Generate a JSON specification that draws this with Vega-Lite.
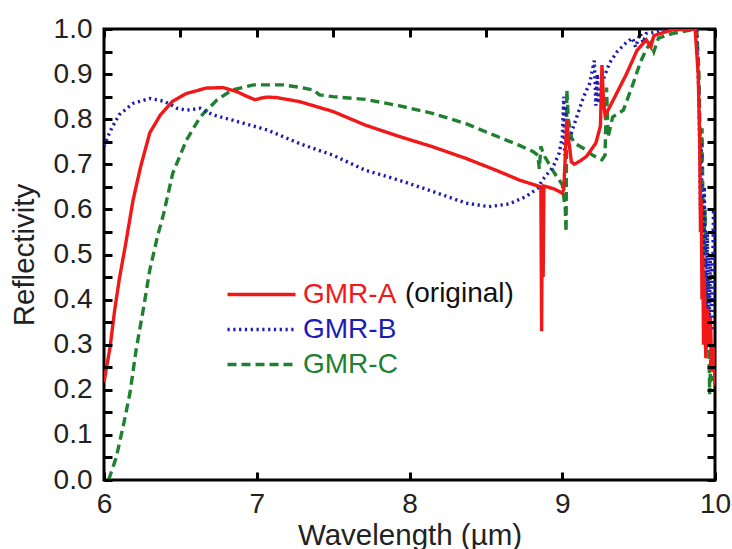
{
  "$schema": "https://vega.github.io/schema/vega-lite/v6.json",
  "width": 611,
  "height": 451,
  "autosize": {"type": "none"},
  "padding": {"left": 104, "top": 29, "right": 17, "bottom": 69},
  "background": "white",
  "config": {
    "font": "Liberation Sans",
    "view": {"stroke": "black", "strokeWidth": 3},
    "axis": {"grid": false, "labelFont": "Liberation Sans", "labelFontSize": 28, "labelColor": "#222", "titleFont": "Liberation Sans", "titleFontSize": 29.5, "titleFontWeight": "normal", "titleColor": "#222"}
  },
  "datasets": {
    "curves": [
      {"s":"GMR-C","w":6.03,"r":0.0},{"s":"GMR-C","w":6.05,"r":0.02},{"s":"GMR-C","w":6.08,"r":0.05},{"s":"GMR-C","w":6.13,"r":0.126},{"s":"GMR-C","w":6.17,"r":0.193},{"s":"GMR-C","w":6.21,"r":0.288},{"s":"GMR-C","w":6.26,"r":0.384},{"s":"GMR-C","w":6.30,"r":0.466},{"s":"GMR-C","w":6.35,"r":0.54},{"s":"GMR-C","w":6.39,"r":0.59},{"s":"GMR-C","w":6.45,"r":0.68},{"s":"GMR-C","w":6.54,"r":0.754},{"s":"GMR-C","w":6.63,"r":0.805},{"s":"GMR-C","w":6.74,"r":0.843},{"s":"GMR-C","w":6.84,"r":0.865},{"s":"GMR-C","w":6.98,"r":0.876},{"s":"GMR-C","w":7.17,"r":0.876},{"s":"GMR-C","w":7.28,"r":0.871},{"s":"GMR-C","w":7.37,"r":0.865},{"s":"GMR-C","w":7.41,"r":0.854},{"s":"GMR-C","w":7.50,"r":0.85},{"s":"GMR-C","w":7.71,"r":0.844},{"s":"GMR-C","w":7.93,"r":0.83},{"s":"GMR-C","w":8.15,"r":0.813},{"s":"GMR-C","w":8.37,"r":0.79},{"s":"GMR-C","w":8.58,"r":0.761},{"s":"GMR-C","w":8.72,"r":0.742},{"s":"GMR-C","w":8.81,"r":0.728},{"s":"GMR-C","w":8.84,"r":0.72},{"s":"GMR-C","w":8.85,"r":0.69},{"s":"GMR-C","w":8.86,"r":0.74},{"s":"GMR-C","w":8.88,"r":0.72},{"s":"GMR-C","w":8.95,"r":0.68},{"s":"GMR-C","w":9.0,"r":0.655},{"s":"GMR-C","w":9.02,"r":0.6},{"s":"GMR-C","w":9.025,"r":0.55},{"s":"GMR-C","w":9.03,"r":0.865},{"s":"GMR-C","w":9.04,"r":0.8},{"s":"GMR-C","w":9.06,"r":0.76},{"s":"GMR-C","w":9.08,"r":0.747},{"s":"GMR-C","w":9.14,"r":0.735},{"s":"GMR-C","w":9.20,"r":0.72},{"s":"GMR-C","w":9.26,"r":0.71},{"s":"GMR-C","w":9.28,"r":0.72},{"s":"GMR-C","w":9.29,"r":0.87},{"s":"GMR-C","w":9.30,"r":0.76},{"s":"GMR-C","w":9.33,"r":0.805},{"s":"GMR-C","w":9.40,"r":0.82},{"s":"GMR-C","w":9.46,"r":0.875},{"s":"GMR-C","w":9.51,"r":0.925},{"s":"GMR-C","w":9.55,"r":0.955},{"s":"GMR-C","w":9.58,"r":0.97},{"s":"GMR-C","w":9.60,"r":0.95},{"s":"GMR-C","w":9.63,"r":0.98},{"s":"GMR-C","w":9.72,"r":0.99},{"s":"GMR-C","w":9.88,"r":1.0},{"s":"GMR-C","w":9.895,"r":0.9},{"s":"GMR-C","w":9.905,"r":0.7},{"s":"GMR-C","w":9.915,"r":0.78},{"s":"GMR-C","w":9.925,"r":0.5},{"s":"GMR-C","w":9.935,"r":0.6},{"s":"GMR-C","w":9.945,"r":0.35},{"s":"GMR-C","w":9.955,"r":0.45},{"s":"GMR-C","w":9.965,"r":0.19},{"s":"GMR-C","w":9.975,"r":0.3},{"s":"GMR-C","w":9.985,"r":0.22},{"s":"GMR-C","w":10.0,"r":0.25},

      {"s":"GMR-B","w":6.0,"r":0.74},{"s":"GMR-B","w":6.03,"r":0.765},{"s":"GMR-B","w":6.05,"r":0.78},{"s":"GMR-B","w":6.10,"r":0.81},{"s":"GMR-B","w":6.19,"r":0.835},{"s":"GMR-B","w":6.30,"r":0.846},{"s":"GMR-B","w":6.39,"r":0.84},{"s":"GMR-B","w":6.45,"r":0.83},{"s":"GMR-B","w":6.48,"r":0.824},{"s":"GMR-B","w":6.54,"r":0.82},{"s":"GMR-B","w":6.63,"r":0.824},{"s":"GMR-B","w":6.71,"r":0.81},{"s":"GMR-B","w":6.84,"r":0.798},{"s":"GMR-B","w":7.07,"r":0.776},{"s":"GMR-B","w":7.28,"r":0.746},{"s":"GMR-B","w":7.50,"r":0.72},{"s":"GMR-B","w":7.71,"r":0.687},{"s":"GMR-B","w":7.93,"r":0.665},{"s":"GMR-B","w":8.15,"r":0.64},{"s":"GMR-B","w":8.37,"r":0.614},{"s":"GMR-B","w":8.52,"r":0.606},{"s":"GMR-B","w":8.65,"r":0.612},{"s":"GMR-B","w":8.76,"r":0.628},{"s":"GMR-B","w":8.84,"r":0.647},{"s":"GMR-B","w":8.87,"r":0.665},{"s":"GMR-B","w":8.94,"r":0.694},{"s":"GMR-B","w":8.98,"r":0.725},{"s":"GMR-B","w":9.0,"r":0.76},{"s":"GMR-B","w":9.01,"r":0.85},{"s":"GMR-B","w":9.015,"r":0.72},{"s":"GMR-B","w":9.02,"r":0.83},{"s":"GMR-B","w":9.03,"r":0.74},{"s":"GMR-B","w":9.06,"r":0.77},{"s":"GMR-B","w":9.10,"r":0.81},{"s":"GMR-B","w":9.14,"r":0.85},{"s":"GMR-B","w":9.18,"r":0.88},{"s":"GMR-B","w":9.21,"r":0.93},{"s":"GMR-B","w":9.22,"r":0.83},{"s":"GMR-B","w":9.23,"r":0.9},{"s":"GMR-B","w":9.24,"r":0.835},{"s":"GMR-B","w":9.26,"r":0.88},{"s":"GMR-B","w":9.31,"r":0.925},{"s":"GMR-B","w":9.36,"r":0.95},{"s":"GMR-B","w":9.42,"r":0.97},{"s":"GMR-B","w":9.46,"r":0.98},{"s":"GMR-B","w":9.48,"r":0.96},{"s":"GMR-B","w":9.51,"r":0.99},{"s":"GMR-B","w":9.53,"r":0.97},{"s":"GMR-B","w":9.55,"r":0.99},{"s":"GMR-B","w":9.62,"r":0.993},{"s":"GMR-B","w":9.70,"r":1.0},{"s":"GMR-B","w":9.88,"r":1.0},{"s":"GMR-B","w":9.895,"r":0.85},{"s":"GMR-B","w":9.905,"r":0.6},{"s":"GMR-B","w":9.91,"r":0.75},{"s":"GMR-B","w":9.92,"r":0.45},{"s":"GMR-B","w":9.93,"r":0.65},{"s":"GMR-B","w":9.94,"r":0.35},{"s":"GMR-B","w":9.95,"r":0.55},{"s":"GMR-B","w":9.96,"r":0.3},{"s":"GMR-B","w":9.97,"r":0.5},{"s":"GMR-B","w":9.98,"r":0.33},{"s":"GMR-B","w":9.99,"r":0.6},{"s":"GMR-B","w":10.0,"r":0.4},

      {"s":"GMR-A","w":6.0,"r":0.217},{"s":"GMR-A","w":6.04,"r":0.295},{"s":"GMR-A","w":6.07,"r":0.377},{"s":"GMR-A","w":6.10,"r":0.445},{"s":"GMR-A","w":6.14,"r":0.52},{"s":"GMR-A","w":6.19,"r":0.62},{"s":"GMR-A","w":6.24,"r":0.695},{"s":"GMR-A","w":6.30,"r":0.77},{"s":"GMR-A","w":6.37,"r":0.81},{"s":"GMR-A","w":6.45,"r":0.84},{"s":"GMR-A","w":6.54,"r":0.857},{"s":"GMR-A","w":6.67,"r":0.869},{"s":"GMR-A","w":6.78,"r":0.87},{"s":"GMR-A","w":6.87,"r":0.861},{"s":"GMR-A","w":6.94,"r":0.85},{"s":"GMR-A","w":6.99,"r":0.843},{"s":"GMR-A","w":7.03,"r":0.847},{"s":"GMR-A","w":7.07,"r":0.849},{"s":"GMR-A","w":7.13,"r":0.848},{"s":"GMR-A","w":7.28,"r":0.839},{"s":"GMR-A","w":7.50,"r":0.817},{"s":"GMR-A","w":7.71,"r":0.787},{"s":"GMR-A","w":7.93,"r":0.762},{"s":"GMR-A","w":8.15,"r":0.739},{"s":"GMR-A","w":8.37,"r":0.713},{"s":"GMR-A","w":8.58,"r":0.685},{"s":"GMR-A","w":8.72,"r":0.665},{"s":"GMR-A","w":8.84,"r":0.652},{"s":"GMR-A","w":8.86,"r":0.65},{"s":"GMR-A","w":8.865,"r":0.33},{"s":"GMR-A","w":8.87,"r":0.64},{"s":"GMR-A","w":8.875,"r":0.45},{"s":"GMR-A","w":8.88,"r":0.652},{"s":"GMR-A","w":8.95,"r":0.645},{"s":"GMR-A","w":9.0,"r":0.636},{"s":"GMR-A","w":9.01,"r":0.645},{"s":"GMR-A","w":9.02,"r":0.72},{"s":"GMR-A","w":9.03,"r":0.8},{"s":"GMR-A","w":9.04,"r":0.76},{"s":"GMR-A","w":9.06,"r":0.705},{"s":"GMR-A","w":9.08,"r":0.7},{"s":"GMR-A","w":9.12,"r":0.708},{"s":"GMR-A","w":9.16,"r":0.718},{"s":"GMR-A","w":9.22,"r":0.747},{"s":"GMR-A","w":9.25,"r":0.785},{"s":"GMR-A","w":9.26,"r":0.92},{"s":"GMR-A","w":9.27,"r":0.84},{"s":"GMR-A","w":9.28,"r":0.81},{"s":"GMR-A","w":9.30,"r":0.82},{"s":"GMR-A","w":9.36,"r":0.86},{"s":"GMR-A","w":9.42,"r":0.9},{"s":"GMR-A","w":9.49,"r":0.953},{"s":"GMR-A","w":9.55,"r":0.976},{"s":"GMR-A","w":9.58,"r":0.96},{"s":"GMR-A","w":9.60,"r":0.985},{"s":"GMR-A","w":9.64,"r":0.99},{"s":"GMR-A","w":9.72,"r":0.998},{"s":"GMR-A","w":9.87,"r":1.0},{"s":"GMR-A","w":9.89,"r":0.9},{"s":"GMR-A","w":9.90,"r":0.75},{"s":"GMR-A","w":9.905,"r":0.55},{"s":"GMR-A","w":9.91,"r":0.62},{"s":"GMR-A","w":9.915,"r":0.4},{"s":"GMR-A","w":9.92,"r":0.5},{"s":"GMR-A","w":9.925,"r":0.3},{"s":"GMR-A","w":9.93,"r":0.45},{"s":"GMR-A","w":9.94,"r":0.27},{"s":"GMR-A","w":9.95,"r":0.38},{"s":"GMR-A","w":9.96,"r":0.3},{"s":"GMR-A","w":9.97,"r":0.36},{"s":"GMR-A","w":9.98,"r":0.24},{"s":"GMR-A","w":9.99,"r":0.3},{"s":"GMR-A","w":10.0,"r":0.21}
    ]
  },
  "layer": [
    {
      "data": {"name": "curves"},
      "mark": {"type": "line", "strokeWidth": 3.4, "clip": true},
      "encoding": {
        "x": {"field": "w", "type": "quantitative", "scale": {"domain": [6, 10], "nice": false, "zero": false},
          "axis": {"orient": "bottom", "title": "Wavelength (µm)", "values": [6, 6.5, 7, 7.5, 8, 8.5, 9, 9.5, 10], "labelExpr": "datum.value % 1 ? '' : datum.label", "format": "d", "domain": false, "ticks": true, "tickOpacity": 1, "tickColor": "black", "tickWidth": 3, "tickSize": -8, "labelPadding": 18, "titleBaseline": "alphabetic", "titleY": 64, "labelFlush": false, "zindex": 1}},
        "y": {"field": "r", "type": "quantitative", "scale": {"domain": [0, 1], "nice": false},
          "axis": {"orient": "left", "title": "Reflectivity", "values": [0, 0.05, 0.1, 0.15, 0.2, 0.25, 0.3, 0.35, 0.4, 0.45, 0.5, 0.55, 0.6, 0.65, 0.7, 0.75, 0.8, 0.85, 0.9, 0.95, 1.0], "labelExpr": "abs(datum.value*10 - round(datum.value*10)) < 0.001 ? format(datum.value, '.1f') : ''", "domain": false, "ticks": true, "tickOpacity": 1, "tickColor": "black", "tickWidth": 3, "tickSize": -8, "labelPadding": 20, "titleBaseline": "alphabetic", "titleX": -71, "labelFlush": false, "zindex": 1}},
        "color": {"field": "s", "type": "nominal", "scale": {"domain": ["GMR-A", "GMR-B", "GMR-C"], "range": ["#f01818", "#1c1cb4", "#1f8030"]},
          "legend": {"orient": "none", "legendX": 143, "legendY": 251, "title": null, "padding": 0, "symbolType": "M-2.72,0H2.72", "symbolSize": 625, "symbolStrokeWidth": 3.4, "labelFontSize": 28, "labelFont": "Liberation Sans", "labelOffset": 27, "rowPadding": 6, "encode": {"labels": {"update": {"fill": {"scale": "color", "field": "value"}}}}}},
        "strokeDash": {"field": "s", "type": "nominal", "scale": {"domain": ["GMR-A", "GMR-B", "GMR-C"], "range": [[1, 0], [2.2, 3.6], [9, 5]]},
          "legend": {"orient": "none", "legendX": 143, "legendY": 251, "title": null, "padding": 0, "symbolType": "M-2.72,0H2.72", "symbolSize": 625, "symbolStrokeWidth": 3.4, "labelFontSize": 28, "labelFont": "Liberation Sans", "labelOffset": 27, "rowPadding": 6, "encode": {"labels": {"update": {"fill": {"scale": "color", "field": "value"}}}}}},
        "detail": {"field": "s"}
      }
    },
    {
      "data": {"name": "curves"},
      "mark": {"type": "line", "opacity": 0},
      "encoding": {
        "x": {"field": "w", "type": "quantitative",
          "axis": {"orient": "top", "title": null, "labels": false, "values": [6, 6.5, 7, 7.5, 8, 8.5, 9, 9.5, 10], "domain": false, "ticks": true, "tickOpacity": 1, "tickColor": "black", "tickWidth": 3, "tickSize": -8, "zindex": 1}},
        "y": {"field": "r", "type": "quantitative",
          "axis": {"orient": "right", "title": null, "labels": false, "values": [0, 0.05, 0.1, 0.15, 0.2, 0.25, 0.3, 0.35, 0.4, 0.45, 0.5, 0.55, 0.6, 0.65, 0.7, 0.75, 0.8, 0.85, 0.9, 0.95, 1.0], "domain": false, "ticks": true, "tickOpacity": 1, "tickColor": "black", "tickWidth": 3, "tickSize": -8, "zindex": 1}},
        "detail": {"field": "s"}
      }
    },
    {
      "data": {"values": [{"note": "(original)"}]},
      "mark": {"type": "text", "align": "left", "baseline": "middle", "fontSize": 28, "font": "Liberation Sans", "color": "#111"},
      "encoding": {
        "text": {"field": "note"},
        "x": {"datum": 7.97, "type": "quantitative", "axis": null},
        "y": {"datum": 0.412, "type": "quantitative", "axis": null}
      }
    }
  ],
  "resolve": {"axis": {"x": "independent", "y": "independent"}}
}
